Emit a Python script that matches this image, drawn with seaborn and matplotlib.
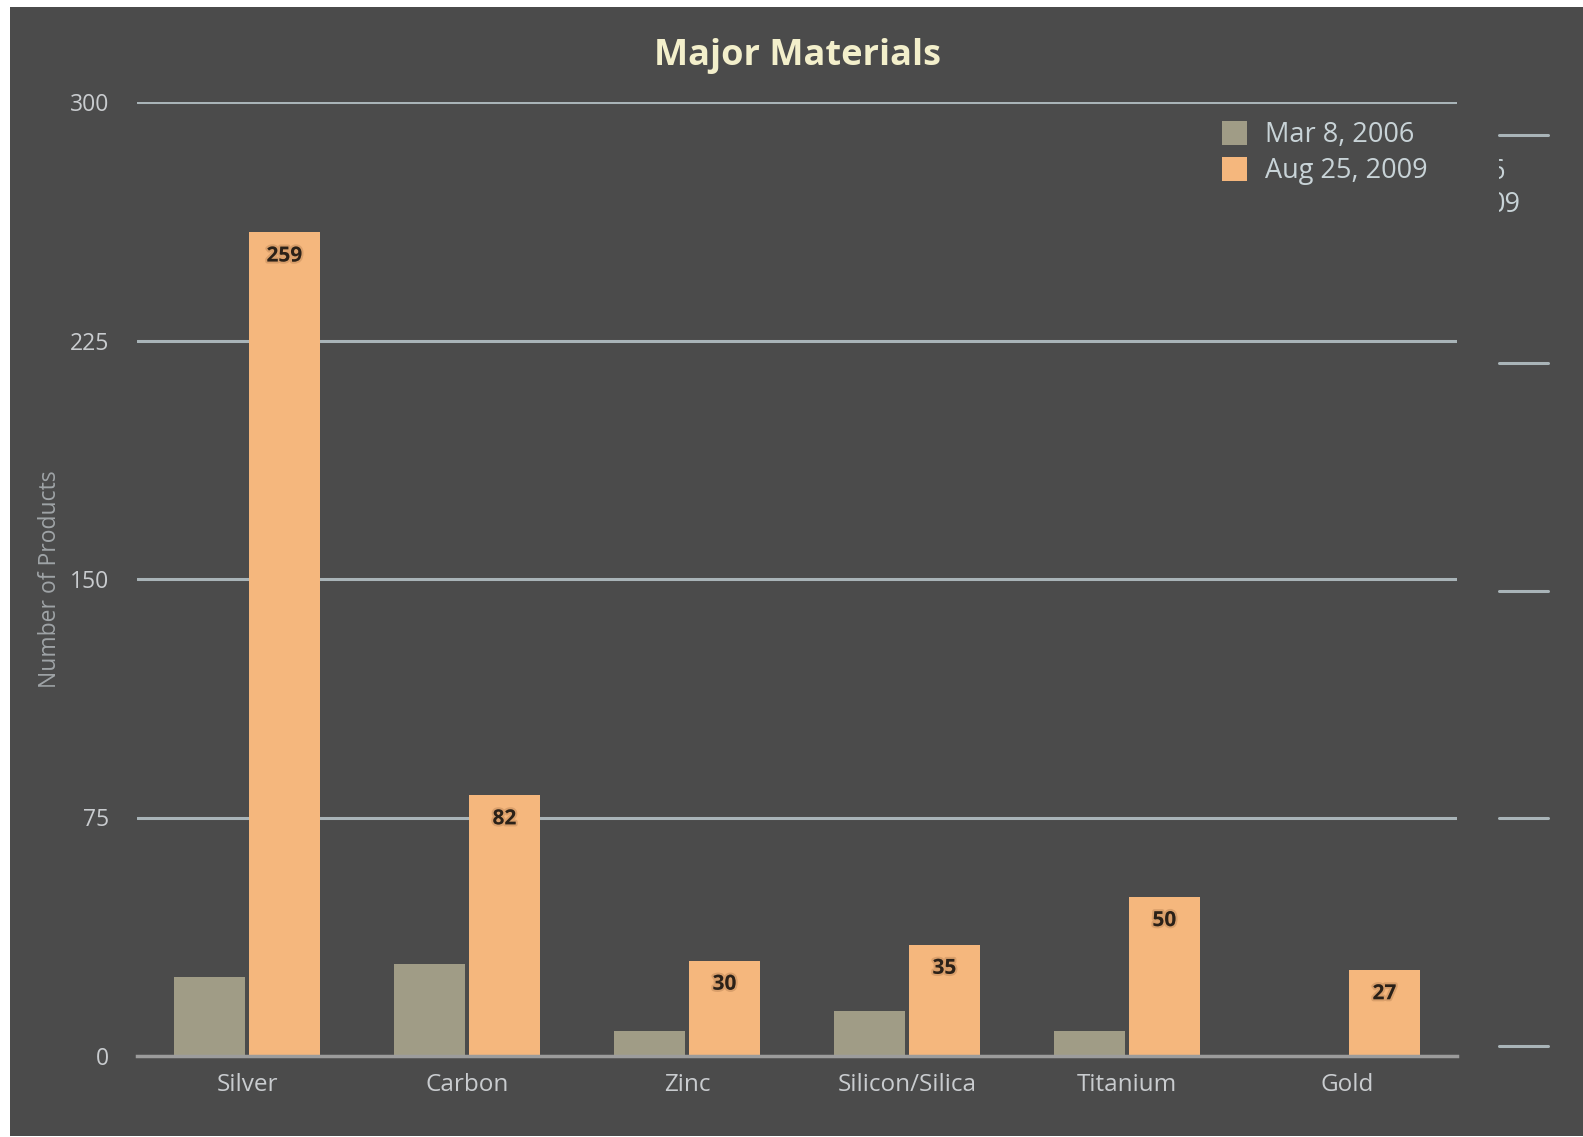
import matplotlib
matplotlib.use("Agg")
import matplotlib.pyplot as plt
import matplotlib.patheffects as pe
from matplotlib.patches import Rectangle, Patch
import seaborn as sns
import pandas as pd

# ---- data ----
categories = ["Silver", "Carbon", "Zinc", "Silicon/Silica", "Titanium", "Gold"]
series_names = ["Mar 8, 2006", "Aug 25, 2009"]
values_2006 = [25, 29, 8, 14, 8, 0]
values_2009 = [259, 82, 30, 35, 50, 27]
y_ticks = [0, 75, 150, 225, 300]
title = "Major Materials"
y_label = "Number of Products"

colors = {"Mar 8, 2006": "#a09c86", "Aug 25, 2009": "#f5b77d"}
BG = "#4b4b4b"
GRID = "#a9b4b8"
TICK = "#c9cccf"
LEG = "#c8d3d7"

df = pd.DataFrame({
    "Material": categories * 2,
    "Series": [series_names[0]] * len(categories) + [series_names[1]] * len(categories),
    "Products": values_2006 + values_2009,
})

sns.set_theme(style="dark")
plt.rcParams["font.family"] = ["Open Sans", "DejaVu Sans"]

W, H = 1583, 1137
fig = plt.figure(figsize=(W / 100, H / 100), dpi=100, facecolor="white")
# dark panel
fig.patches.append(Rectangle((10 / W, 1 / H), 1 - 10 / W, 1 - 8 / H,
                             transform=fig.transFigure, facecolor=BG,
                             edgecolor="none", zorder=-10))

ax = fig.add_axes([137 / W, 1 - 1056 / H, (1457 - 137) / W, (1056 - 102) / H])
ax.set_facecolor(BG)

sns.barplot(data=df, x="Material", y="Products", hue="Series",
            order=categories, hue_order=series_names, palette=colors,
            width=0.68, gap=0.06, saturation=1, ax=ax, legend=False,
            edgecolor="none", linewidth=0, zorder=3)

ax.set_ylim(0, 300)
ax.set_yticks(y_ticks)
ax.set_xlim(-0.5, len(categories) - 0.5)
for t in y_ticks[1:]:
    ax.axhline(t, color=GRID, lw=2.2, zorder=1)
for s in ["top", "right", "left"]:
    ax.spines[s].set_visible(False)
ax.spines["bottom"].set_color("#9c9c9c")
ax.spines["bottom"].set_linewidth(2.5)
ax.spines["bottom"].set_zorder(4)
ax.grid(False)
ax.tick_params(axis="both", length=0, colors=TICK)
ax.tick_params(axis="y", pad=20, labelsize=16.5)
ax.tick_params(axis="x", pad=12, labelsize=17.5)
ax.set_xlabel("")
ax.set_ylabel(y_label, color="#9fa4a7", fontsize=16.5)
ax.yaxis.set_label_coords(-0.057, 0.5)

# value labels on 2009 bars
for bar in ax.containers[1]:
    h = bar.get_height()
    ax.annotate(f"{h:.0f}", (bar.get_x() + bar.get_width() / 2, h),
                xytext=(0, -17), textcoords="offset points",
                ha="center", va="center", fontsize=15, fontweight="bold",
                color="#2b2118", zorder=5,
                path_effects=[pe.withStroke(linewidth=3, foreground="#c8905e", alpha=0.6)])

fig.text((137 + 1457) / 2 / W, 1 - 56 / H, title, ha="center", va="center",
         fontsize=26, fontweight="bold", color="#f3efcb")

handles = [Patch(facecolor=colors[s], edgecolor="none") for s in series_names]
leg = ax.legend(handles, series_names, loc="upper left",
                bbox_to_anchor=(1222 / W, 1 - 121 / H),
                bbox_transform=fig.transFigure, frameon=False,
                fontsize=19.5, handlelength=0.93, handleheight=1.0,
                handletextpad=0.65, labelspacing=0.28, borderpad=0,
                borderaxespad=0)
for t in leg.get_texts():
    t.set_color(LEG)

# ghost copy of grid/legend at right edge (artifact in the reference)
gax = fig.add_axes([1499 / W, 1 - 1046 / H, (1548 - 1499) / W, (1046 - 135) / H])
gax.set_facecolor("none")
gax.set_ylim(0, 300)
gax.set_xlim(0, 1)
for t in y_ticks:
    gax.axhline(t, color=GRID, lw=2.2, clip_on=False)
gax.axis("off")
gax.text((1505 - 1499) / 49, 1 - (172 - 135) / (1046 - 135), series_names[0][-1:],
         transform=gax.transAxes, ha="right", va="center", fontsize=19.5,
         color=LEG, clip_on=True)
gax.text((1521 - 1499) / 49, 1 - (205 - 135) / (1046 - 135), series_names[1][-2:],
         transform=gax.transAxes, ha="right", va="center", fontsize=19.5,
         color=LEG, clip_on=True)

fig.savefig("out.png", dpi=100, facecolor="white")
